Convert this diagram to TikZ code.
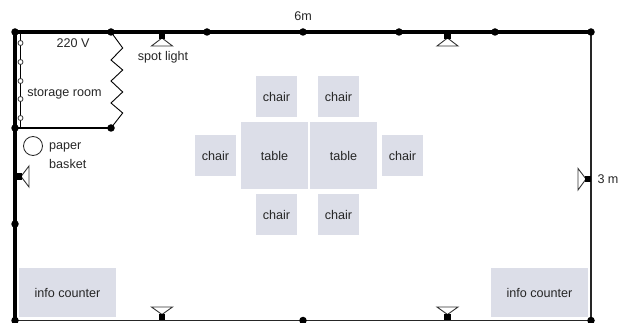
\documentclass[tikz,border=0pt]{standalone}
\usepackage{fontspec}
\setmainfont{Liberation Sans}
\tikzset{
  x=1pt,y=-1pt,
  furn/.style={fill=furncol,draw=none,inner sep=0pt,font=\fontsize{12.6}{14}\selectfont,text=black!85},
  chairbox/.style={furn,minimum width=41pt,minimum height=41pt},
  tablebox/.style={furn,minimum width=67pt,minimum height=67pt},
  counterbox/.style={furn,minimum width=97pt,minimum height=49pt},
  wallthick/.style={line width=3.3pt,draw=black},
  wallthin/.style={line width=1.3pt,draw=black!85},
  dot/.style={circle,fill=black,inner sep=0pt,minimum size=7.5pt},
  label/.style={font=\fontsize{12.6}{14}\selectfont,text=black!85,inner sep=0pt},
  lamp/.style={fill=white,draw=black!80,line width=0.9pt,line join=miter},
  lampfoot/.style={rectangle,fill=black,inner sep=0pt,minimum size=6.5pt},
  bead/.style={circle,draw=black!80,fill=white,line width=0.8pt,inner sep=0pt,minimum size=5pt},
}
\definecolor{furncol}{HTML}{DCDEE8}
\begin{document}
\begin{tikzpicture}
\useasboundingbox (0,0) rectangle (619,323);
% furniture
\node[counterbox] (c1) at (67.5,292.5) {info counter};
\node[counterbox] (c2) at (539.5,292.5) {info counter};
\node[tablebox] (t1) at (274.5,155.5) {table};
\node[tablebox] (t2) at (343.5,155.5) {table};
\node[chairbox] (ch1) at (276.5,96.5) {chair};
\node[chairbox] (ch2) at (338.5,96.5) {chair};
\node[chairbox] (ch3) at (215.5,155.5) {chair};
\node[chairbox] (ch4) at (402.5,155.5) {chair};
\node[chairbox] (ch5) at (276.5,214.5) {chair};
\node[chairbox] (ch6) at (338.5,214.5) {chair};
% wall junctions
\foreach \n/\px/\py in {a/15/32,b/111/32,c/207/32,d/303/32,e/399/32,f/495/32,g/591/32,
  h/15/128,i/111/128,j/15/224,k/15/320.5,l/303/320.5,m/591/320.5}
  \coordinate (\n) at (\px,\py);
% walls
\draw[wallthin] (k) -- (l) -- (m) -- (g);
\draw[wallthick,line cap=round] (a) -- (g);
\draw[wallthick,line cap=round] (a) -- (k);
\draw[line width=2.6pt] (h) -- (i);
% zigzag
\draw[line width=0.9pt,black,line join=miter] (b) -- (122.7,48) -- (111,60) -- (122.7,70) -- (111,81) -- (122.7,92) -- (111,103) -- (122.7,113) -- (i);
% chain
\coordinate (ct) at (20.5,32);
\coordinate (cb) at (20.5,128);
\draw[line width=0.9pt,black] (ct) -- (cb);
\foreach \n/\py in {1/43,2/62,3/81,4/99,5/118}
  \node[bead] (bead\n) at (20.5,\py) {};
% dots
\foreach \n in {a,b,c,d,e,f,g,h,i,j,k,l,m}
  \node[dot] (dot\n) at (\n) {};
% lamps
\draw[lamp] (162,38) -- (151.5,46) -- (172.5,46) -- cycle;
\node[lampfoot] (lt1) at (162,35.5) {};
\draw[lamp] (447.5,38) -- (437,46) -- (458,46) -- cycle;
\node[lampfoot] (lt2) at (447.5,35.5) {};
\draw[lamp] (162,314.5) -- (151.5,307) -- (172.5,307) -- cycle;
\node[lampfoot] (lb1) at (162,317) {};
\draw[lamp] (447.5,314.5) -- (437,307) -- (458,307) -- cycle;
\node[lampfoot] (lb2) at (447.5,317) {};
\draw[lamp] (21,176.5) -- (29,166) -- (29,187) -- cycle;
\node[lampfoot] (ll) at (18.5,176.5) {};
\draw[lamp] (586,179) -- (578,168.5) -- (578,190) -- cycle;
\node[lampfoot] (lr) at (588,179) {};
% basket
\node[circle,draw=black!85,line width=0.8pt,fill=white,minimum size=19pt,inner sep=0pt] (basket) at (33,146) {};
% labels
\node[label] (l6m) at (303,16) {6m};
\node[label] (l3m) at (608,179) {3 m};
\node[label] (l220) at (73,43) {220 V};
\node[label] (lspot) at (163,57) {spot light};
\node[label] (lstore) at (64.5,94) {storage room};
\node[label,anchor=base west] (lpaper) at (49,150) {paper};
\node[label,anchor=base west] (lbasket) at (49,168.5) {basket};
\end{tikzpicture}
\end{document}
